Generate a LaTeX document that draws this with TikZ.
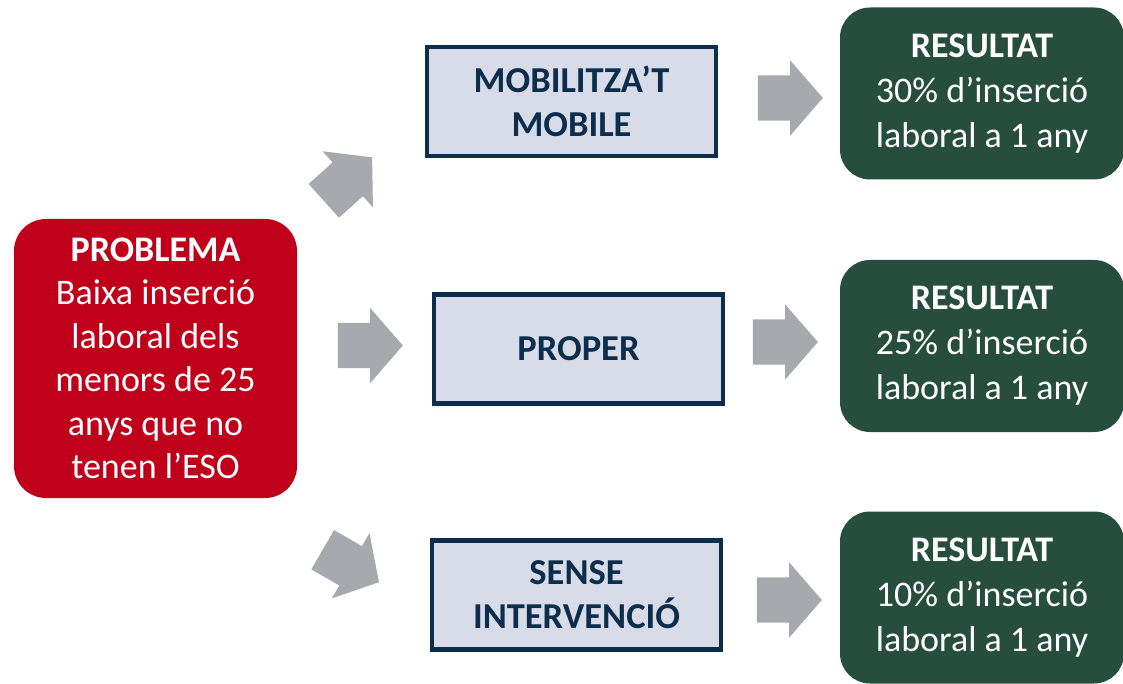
\documentclass[tikz,border=0pt]{standalone}
\usepackage{fontspec}
\setmainfont{Carlito}
\usetikzlibrary{shapes.arrows}
\definecolor{probred}{HTML}{C0001A}
\definecolor{resgreen}{HTML}{264D3D}
\definecolor{navy}{HTML}{0C2D4C}
\definecolor{lav}{HTML}{D8DCE8}
\definecolor{arrgray}{HTML}{A7A9AE}
\tikzset{
  txt/.style={font=\fontsize{36}{43.5}\selectfont, align=center, inner sep=0pt},
  probbox/.style={txt, fill=probred, text=white, rounded corners=32pt,
    minimum width=283pt, minimum height=279pt},
  actbox/.style={txt, fill=lav, draw=navy, line width=4.5pt, text=navy,
    minimum width=289pt, minimum height=109pt, font=\fontsize{36.5}{44}\selectfont\bfseries},
  resbox/.style={txt, fill=resgreen, text=white, rounded corners=30pt,
    minimum width=284pt, minimum height=172pt, font=\fontsize{36}{45}\selectfont},
  blockarrow/.style={single arrow, fill=arrgray, draw=none, inner xsep=0pt,
    inner ysep=22.5pt, minimum height=65pt, single arrow head extend=15pt,
    single arrow tip angle=98}
}
\begin{document}
\begin{tikzpicture}[x=1pt,y=-1pt]
\useasboundingbox (0,0) rectangle (1123,684);
\node[probbox] (prob) at (155.5,358.5) {\textbf{PROBLEMA}\\Baixa inserció\\laboral dels\\menors de 25\\anys que no\\tenen l’ESO};
\node[actbox] (mob) at (571.5,101.5) {MOBILITZA’T\\MOBILE};
\node[actbox] (prop) at (578.5,349) {PROPER};
\node[actbox] (sense) at (576.5,595) {SENSE\\INTERVENCIÓ};
\node[resbox] (r1) at (982,93.5) {\textbf{RESULTAT}\\30\% d’inserció\\laboral a 1 any};
\node[resbox] (r2) at (982,346) {\textbf{RESULTAT}\\25\% d’inserció\\laboral a 1 any};
\node[resbox] (r3) at (982,597.5) {\textbf{RESULTAT}\\10\% d’inserció\\laboral a 1 any};
\node[blockarrow, rotate=42] (a1) at (340.6,185.7) {};
\node[blockarrow] (a2) at (360.5,345.5) {};
\node[blockarrow, rotate=-30] (a3) at (342.3,561) {};
\node[blockarrow] (b1) at (780.5,98) {};
\node[blockarrow] (b2) at (775.5,342) {};
\node[blockarrow] (b3) at (779.5,600) {};
\end{tikzpicture}
\end{document}
